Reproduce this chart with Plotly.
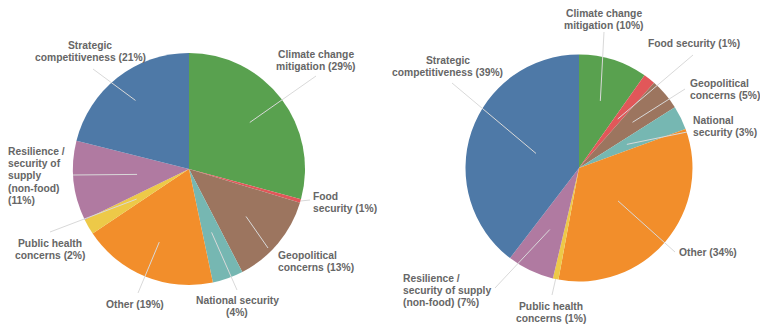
import math
import plotly.graph_objects as go

W, H = 760, 327

categories = ["Climate change mitigation", "Food security", "Geopolitical concerns",
              "National security", "Other", "Public health concerns",
              "Resilience / security of supply (non-food)", "Strategic competitiveness"]
left_values = [29.2, 0.5, 12.7, 4.3, 18.9, 2.2, 11.1, 21.1]
right_values = [9.8, 1.7, 4.5, 3.4, 33.5, 0.8, 6.7, 39.6]
left_labels = ["Climate change<br>mitigation (29%)", "Food<br>security (1%)",
               "Geopolitical<br>concerns (13%)", "National security<br>(4%)",
               "Other (19%)", "Public health<br>concerns (2%)",
               "Resilience /<br>security of<br>supply<br>(non-food)<br>(11%)",
               "Strategic<br>competitiveness (21%)"]
right_labels = ["Climate change<br>mitigation (10%)", "Food security (1%)",
                "Geopolitical<br>concerns (5%)", "National<br>security (3%)",
                "Other (34%)", "Public health<br>concerns (1%)",
                "Resilience /<br>security of supply<br>(non-food) (7%)",
                "Strategic<br>competitiveness (39%)"]
colors = ["#59A14F", "#E15759", "#9C755F", "#76B7B2", "#F28E2B", "#EDC948", "#B07AA1", "#4E79A7"]

# pie geometry (pixels)
pies = [
    dict(values=left_values, labels=left_labels, cx=189, cy=169, r=116,
         # per slice: (label x, label y, xanchor, line end x, line end y, inner radius frac)
         lab=[(316, 60, "center", 316, 76, 0.66),
              (312, 202, "left", 310, 200, 1.0),
              (277, 261, "left", 268, 248, 0.64),
              (237, 306, "center", 237, 290, 0.58),
              (135, 304, "center", 138, 293, 0.68),
              (50, 249, "center", 50, 232, 0.52),
              (7, 176, "left", 73, 175, 0.45),
              (90, 51, "center", 93, 69, 0.75)]),
    dict(values=right_values, labels=right_labels, cx=579, cy=168, r=113.5,
         lab=[(604, 19, "center", 604, 32, 0.62),
              (694, 44, "center", 693, 55, 0.55),
              (689, 89, "left", 685, 89, 0.62),
              (692, 127, "left", 687, 132, 0.47),
              (678, 252, "left", 675, 252, 0.45),
              (551, 312, "center", 552, 295, 1.0),
              (402, 290, "left", 495, 288, 0.6),
              (448, 66, "center", 452, 83, 0.4)]),
]
LINE_H = 12

def px(x):
    return x / W

def py(y):
    return 1 - y / H

fig = go.Figure()
shapes = []
annotations = []
font = dict(family="Liberation Sans, Arial, sans-serif", size=10.3, color="#666666")

for p in pies:
    cx, cy, r = p["cx"], p["cy"], p["r"]
    fig.add_trace(go.Pie(
        labels=categories, values=p["values"], sort=False, direction="clockwise",
        rotation=0, textinfo="none", hoverinfo="label+percent",
        marker=dict(colors=colors, line=dict(width=0)),
        domain=dict(x=[px(cx - r), px(cx + r)], y=[py(cy + r), py(cy - r)]),
        showlegend=False,
    ))
    total = sum(p["values"])
    cum = 0
    for v, text, (lx, ly, anc, ex, ey, rf) in zip(p["values"], p["labels"], p["lab"]):
        mid = (cum + v / 2) / total * 2 * math.pi
        cum += v
        ix = cx + rf * r * math.sin(mid)
        iy = cy - rf * r * math.cos(mid)
        shapes.append(dict(type="line", xref="paper", yref="paper",
                           x0=px(ix), y0=py(iy), x1=px(ex), y1=py(ey),
                           line=dict(color="#d9d9d9", width=1)))
        lines = text.split("<br>")
        n = len(lines)
        for i, ln in enumerate(lines):
            yy = ly + (i - (n - 1) / 2) * LINE_H
            annotations.append(dict(x=px(lx), y=py(yy), xref="paper", yref="paper",
                                    text="<b>" + ln + "</b>", showarrow=False,
                                    xanchor=anc, yanchor="middle",
                                    font=font, borderpad=0))

fig.update_layout(width=W, height=H, margin=dict(l=0, r=0, t=0, b=0),
                  paper_bgcolor="white", plot_bgcolor="white",
                  shapes=shapes, annotations=annotations)
fig.write_html("out.html", config={"displayModeBar": False},
               post_script="document.body.style.margin='0';document.body.style.overflow='hidden';")
